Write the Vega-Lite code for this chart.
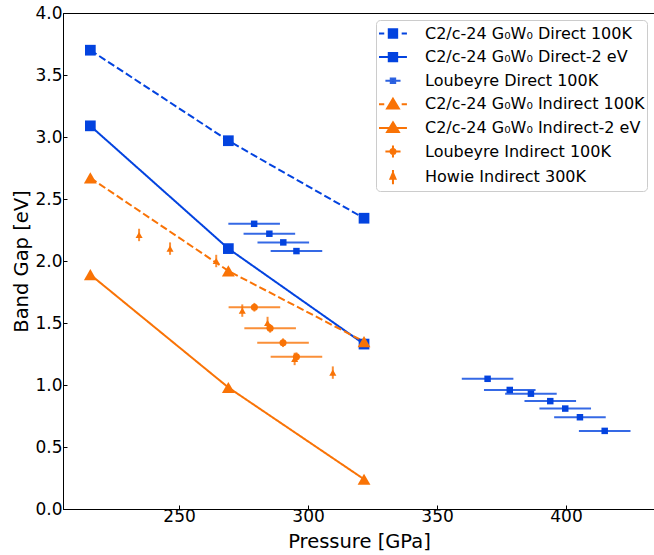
{
  "$schema": "https://vega.github.io/schema/vega-lite/v6.json",
  "width": 592,
  "height": 496,
  "autosize": {"type": "none"},
  "padding": {"left": 63, "top": 13, "right": 0, "bottom": 46},
  "config": {
    "font": "DejaVu Sans",
    "view": {"stroke": "black", "strokeWidth": 1},
    "axis": {"grid": false, "domainColor": "black", "tickColor": "black", "labelColor": "black", "titleColor": "black", "labelFont": "DejaVu Sans", "titleFont": "DejaVu Sans", "labelFontSize": 17, "titleFontSize": 19.5, "titleFontWeight": "normal", "tickSize": -4, "tickWidth": 1}
  },
  "datasets": {
    "pts": [
      {"series": "C2/c-24 G₀W₀ Direct 100K", "p": 215.6, "gap": 3.70},
      {"series": "C2/c-24 G₀W₀ Direct 100K", "p": 269.1, "gap": 2.97},
      {"series": "C2/c-24 G₀W₀ Direct 100K", "p": 321.7, "gap": 2.345},
      {"series": "C2/c-24 G₀W₀ Direct-2 eV", "p": 215.6, "gap": 3.09},
      {"series": "C2/c-24 G₀W₀ Direct-2 eV", "p": 269.1, "gap": 2.10},
      {"series": "C2/c-24 G₀W₀ Direct-2 eV", "p": 321.7, "gap": 1.33},
      {"series": "C2/c-24 G₀W₀ Indirect 100K", "p": 215.6, "gap": 2.67},
      {"series": "C2/c-24 G₀W₀ Indirect 100K", "p": 269.1, "gap": 1.92},
      {"series": "C2/c-24 G₀W₀ Indirect 100K", "p": 321.7, "gap": 1.35},
      {"series": "C2/c-24 G₀W₀ Indirect-2 eV", "p": 215.6, "gap": 1.89},
      {"series": "C2/c-24 G₀W₀ Indirect-2 eV", "p": 269.1, "gap": 0.98},
      {"series": "C2/c-24 G₀W₀ Indirect-2 eV", "p": 321.7, "gap": 0.24},
      {"series": "Loubeyre Direct 100K", "p": 279.1, "gap": 2.30, "xerr": 10},
      {"series": "Loubeyre Direct 100K", "p": 285.0, "gap": 2.22, "xerr": 10},
      {"series": "Loubeyre Direct 100K", "p": 290.4, "gap": 2.15, "xerr": 10},
      {"series": "Loubeyre Direct 100K", "p": 295.5, "gap": 2.08, "xerr": 10},
      {"series": "Loubeyre Direct 100K", "p": 369.6, "gap": 1.05, "xerr": 10},
      {"series": "Loubeyre Direct 100K", "p": 378.2, "gap": 0.96, "xerr": 10},
      {"series": "Loubeyre Direct 100K", "p": 386.4, "gap": 0.93, "xerr": 10},
      {"series": "Loubeyre Direct 100K", "p": 393.9, "gap": 0.87, "xerr": 10},
      {"series": "Loubeyre Direct 100K", "p": 399.7, "gap": 0.81, "xerr": 10},
      {"series": "Loubeyre Direct 100K", "p": 405.4, "gap": 0.74, "xerr": 10},
      {"series": "Loubeyre Direct 100K", "p": 415.0, "gap": 0.63, "xerr": 10},
      {"series": "Loubeyre Indirect 100K", "p": 279.2, "gap": 1.627, "xerr": 10, "yerr": 0.035},
      {"series": "Loubeyre Indirect 100K", "p": 285.3, "gap": 1.457, "xerr": 10, "yerr": 0.035},
      {"series": "Loubeyre Indirect 100K", "p": 290.3, "gap": 1.341, "xerr": 10, "yerr": 0.035},
      {"series": "Loubeyre Indirect 100K", "p": 295.5, "gap": 1.228, "xerr": 10, "yerr": 0.035},
      {"series": "Howie Indirect 300K", "p": 234.5, "gap": 2.21, "yerr": 0.05},
      {"series": "Howie Indirect 300K", "p": 246.5, "gap": 2.10, "yerr": 0.05},
      {"series": "Howie Indirect 300K", "p": 264.4, "gap": 2.00, "yerr": 0.05},
      {"series": "Howie Indirect 300K", "p": 274.5, "gap": 1.60, "yerr": 0.05},
      {"series": "Howie Indirect 300K", "p": 284.3, "gap": 1.50, "yerr": 0.05},
      {"series": "Howie Indirect 300K", "p": 294.8, "gap": 1.21, "yerr": 0.05},
      {"series": "Howie Indirect 300K", "p": 309.6, "gap": 1.10, "yerr": 0.05}
    ]
  },
  "data": {"name": "pts"},
  "encoding": {
    "x": {"field": "p", "type": "quantitative", "scale": {"domain": [205, 434.5], "nice": false, "zero": false},
      "axis": {"title": "Pressure [GPa]", "values": [250, 300, 350, 400], "labelPadding": 3, "titlePadding": 8}},
    "y": {"field": "gap", "type": "quantitative", "scale": {"domain": [0, 4], "nice": false},
      "axis": {"title": "Band Gap [eV]", "values": [0, 0.5, 1, 1.5, 2, 2.5, 3, 3.5, 4], "format": ".1f", "labelPadding": 5, "titlePadding": 3}}
  },
  "layer": [
    {
      "transform": [{"filter": "indexof(datum.series, 'C2/c') == 0"}],
      "mark": {"type": "line", "strokeWidth": 2},
      "encoding": {
        "color": {"field": "series", "type": "nominal", "legend": null,
          "scale": {"domain": ["C2/c-24 G₀W₀ Direct 100K", "C2/c-24 G₀W₀ Direct-2 eV", "C2/c-24 G₀W₀ Indirect 100K", "C2/c-24 G₀W₀ Indirect-2 eV"], "range": ["#0343df", "#0343df", "#f97306", "#f97306"]}},
        "strokeDash": {"field": "series", "type": "nominal", "legend": null,
          "scale": {"domain": ["C2/c-24 G₀W₀ Direct 100K", "C2/c-24 G₀W₀ Direct-2 eV", "C2/c-24 G₀W₀ Indirect 100K", "C2/c-24 G₀W₀ Indirect-2 eV"], "range": [[7.4, 3.2], [1, 0], [7.4, 3.2], [1, 0]]}},
        "order": {"field": "p", "type": "quantitative"}
      }
    },
    {
      "transform": [{"filter": "isValid(datum.xerr)"}],
      "mark": {"type": "errorbar", "thickness": 2, "opacity": 0.8},
      "encoding": {
        "xError": {"field": "xerr"},
        "color": {"field": "series", "type": "nominal", "legend": null,
          "scale": {"domain": ["Loubeyre Direct 100K", "Loubeyre Indirect 100K"], "range": ["#0343df", "#f97306"]}}
      }
    },
    {
      "transform": [{"filter": "isValid(datum.yerr)"}],
      "mark": {"type": "errorbar", "thickness": 2, "opacity": 0.8},
      "encoding": {
        "yError": {"field": "yerr"},
        "color": {"field": "series", "type": "nominal", "legend": null,
          "scale": {"domain": ["Loubeyre Indirect 100K", "Howie Indirect 300K"], "range": ["#f97306", "#f97306"]}}
      }
    },
    {
      "mark": {"type": "point", "filled": true, "opacity": 1},
      "encoding": {
        "color": {"field": "series", "type": "nominal", "legend": null,
          "scale": {"domain": ["C2/c-24 G₀W₀ Direct 100K", "C2/c-24 G₀W₀ Direct-2 eV", "Loubeyre Direct 100K", "C2/c-24 G₀W₀ Indirect 100K", "C2/c-24 G₀W₀ Indirect-2 eV", "Loubeyre Indirect 100K", "Howie Indirect 300K"],
            "range": ["#0343df", "#0343df", "#0343df", "#f97306", "#f97306", "#f97306", "#f97306"]}},
        "shape": {"field": "series", "type": "nominal", "legend": null,
          "scale": {"domain": ["C2/c-24 G₀W₀ Direct 100K", "C2/c-24 G₀W₀ Direct-2 eV", "Loubeyre Direct 100K", "C2/c-24 G₀W₀ Indirect 100K", "C2/c-24 G₀W₀ Indirect-2 eV", "Loubeyre Indirect 100K", "Howie Indirect 300K"],
            "range": ["square", "square", "square", "triangle-up", "triangle-up", "circle", "triangle-up"]}},
        "size": {"field": "series", "type": "nominal", "legend": null,
          "scale": {"type": "ordinal", "domain": ["C2/c-24 G₀W₀ Direct 100K", "C2/c-24 G₀W₀ Direct-2 eV", "Loubeyre Direct 100K", "C2/c-24 G₀W₀ Indirect 100K", "C2/c-24 G₀W₀ Indirect-2 eV", "Loubeyre Indirect 100K", "Howie Indirect 300K"],
            "range": [115, 115, 42, 165, 165, 50, 50]}}
      }
    },
    {
      "transform": [{"filter": "false"}],
      "mark": {"type": "point", "filled": true, "opacity": 1, "strokeWidth": 2},
      "encoding": {
        "color": {"field": "series", "type": "nominal", "title": null,
          "scale": {"domain": ["C2/c-24 G₀W₀ Direct 100K", "C2/c-24 G₀W₀ Direct-2 eV", "Loubeyre Direct 100K", "C2/c-24 G₀W₀ Indirect 100K", "C2/c-24 G₀W₀ Indirect-2 eV", "Loubeyre Indirect 100K", "Howie Indirect 300K"],
            "range": ["#0343df", "#0343df", "#0343df", "#f97306", "#f97306", "#f97306", "#f97306"]},
          "legend": {"orient": "none", "legendX": 313, "legendY": 7, "padding": 2, "strokeColor": "#cccccc", "fillColor": "rgba(255,255,255,0.8)", "cornerRadius": 4, "labelFont": "DejaVu Sans", "labelFontSize": 16, "labelColor": "black", "symbolSize": 441, "symbolStrokeWidth": 2, "rowPadding": 3.6, "labelOffset": 24, "labelLimit": 400}},
        "stroke": {"field": "series", "type": "nominal", "title": null,
          "scale": {"domain": ["C2/c-24 G₀W₀ Direct 100K", "C2/c-24 G₀W₀ Direct-2 eV", "Loubeyre Direct 100K", "C2/c-24 G₀W₀ Indirect 100K", "C2/c-24 G₀W₀ Indirect-2 eV", "Loubeyre Indirect 100K", "Howie Indirect 300K"],
            "range": ["#0343df", "#0343df", "#2d62e0", "#f97306", "#f97306", "#f97306", "#f97306"]}},
        "shape": {"field": "series", "type": "nominal", "title": null,
          "scale": {"domain": ["C2/c-24 G₀W₀ Direct 100K", "C2/c-24 G₀W₀ Direct-2 eV", "Loubeyre Direct 100K", "C2/c-24 G₀W₀ Indirect 100K", "C2/c-24 G₀W₀ Indirect-2 eV", "Loubeyre Indirect 100K", "Howie Indirect 300K"],
            "range": [
              "M-1,0H-0.5M1.16,0H1.66M-0.07,-0.4H0.73V0.4H-0.07Z",
              "M-1,0H1.66M-0.07,-0.4H0.73V0.4H-0.07Z",
              "M-0.39,0H1.05M0.12,-0.21H0.54V0.21H0.12Z",
              "M-1,0H-0.5M1.16,0H1.66M0.33,-0.53L0.89,0.4H-0.23Z",
              "M-1,0H1.66M0.33,-0.53L0.89,0.4H-0.23Z",
              "M-0.39,0H1.05M0.33,-0.57V0.57M0.57,0A0.24,0.24 0 1,1 0.09,0A0.24,0.24 0 1,1 0.57,0Z",
              "M0.33,-0.67V0.67M0.33,-0.4L0.57,0.16H0.09Z"
            ]}}
      }
    }
  ],
  "resolve": {"scale": {"color": "independent", "shape": "independent", "size": "independent", "strokeDash": "independent", "stroke": "independent"}}
}
